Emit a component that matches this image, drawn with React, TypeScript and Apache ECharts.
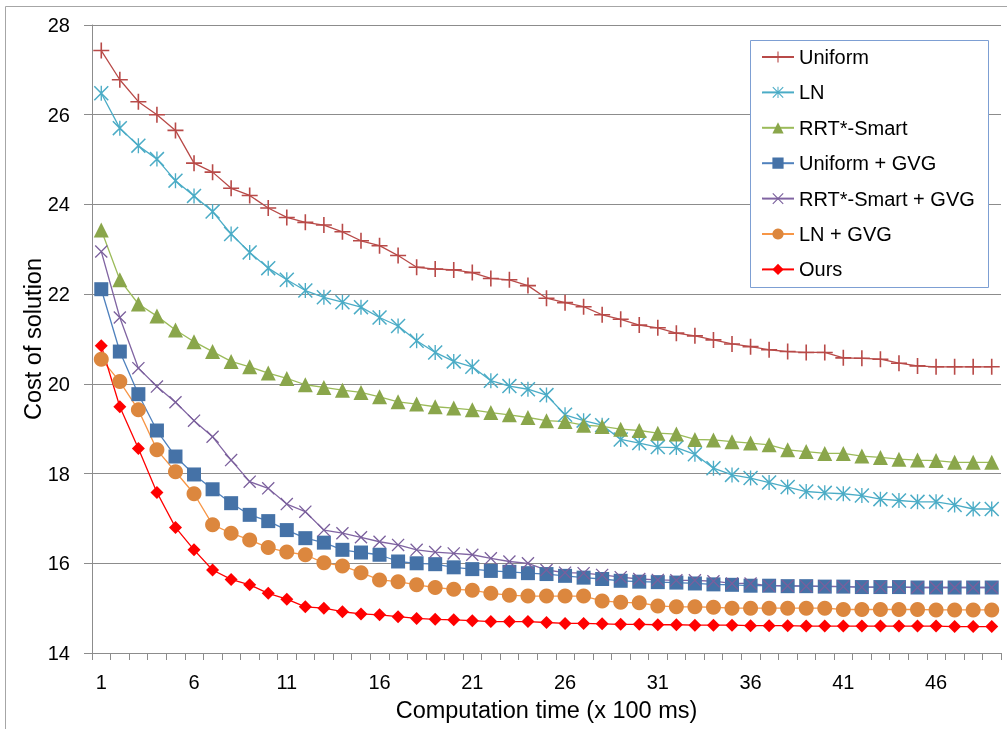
import React, { useEffect, useRef } from "react";
import * as echarts from "echarts";

const categories = ["1","2","3","4","5","6","7","8","9","10","11","12","13","14","15","16","17","18","19","20","21","22","23","24","25","26","27","28","29","30","31","32","33","34","35","36","37","38","39","40","41","42","43","44","45","46","47","48","49"];

const uniform = [27.43,26.78,26.29,26.0,25.65,24.92,24.72,24.36,24.2,23.92,23.71,23.6,23.54,23.39,23.19,23.08,22.86,22.6,22.56,22.54,22.48,22.35,22.32,22.19,21.91,21.81,21.72,21.54,21.44,21.31,21.25,21.13,21.07,20.98,20.89,20.83,20.76,20.72,20.7,20.7,20.58,20.57,20.55,20.46,20.4,20.38,20.38,20.38,20.38];
const ln = [26.48,25.7,25.31,25.01,24.53,24.19,23.84,23.34,22.93,22.58,22.32,22.08,21.93,21.82,21.71,21.48,21.29,20.96,20.7,20.5,20.38,20.07,19.95,19.88,19.75,19.31,19.18,19.08,18.76,18.68,18.59,18.58,18.43,18.12,17.97,17.9,17.8,17.7,17.6,17.57,17.55,17.51,17.43,17.4,17.37,17.37,17.3,17.21,17.21];
const rrtSmart = [23.43,22.32,21.78,21.51,21.2,20.94,20.72,20.5,20.38,20.24,20.12,19.98,19.92,19.86,19.81,19.71,19.6,19.55,19.49,19.46,19.42,19.36,19.31,19.25,19.18,19.16,19.08,19.05,18.99,18.96,18.9,18.88,18.76,18.75,18.71,18.68,18.64,18.53,18.49,18.45,18.45,18.39,18.36,18.32,18.3,18.29,18.25,18.25,18.25];
const uniformGvg = [22.11,20.72,19.77,18.96,18.38,17.98,17.65,17.34,17.08,16.94,16.74,16.56,16.46,16.3,16.24,16.19,16.04,16.0,15.98,15.91,15.87,15.83,15.81,15.78,15.76,15.72,15.68,15.65,15.61,15.59,15.58,15.57,15.55,15.53,15.52,15.5,15.5,15.49,15.49,15.48,15.48,15.47,15.47,15.47,15.46,15.46,15.46,15.46,15.46];
const rrtSmartGvg = [22.95,21.48,20.35,19.94,19.59,19.18,18.82,18.3,17.82,17.67,17.32,17.15,16.74,16.67,16.58,16.48,16.41,16.3,16.25,16.22,16.19,16.11,16.04,16.0,15.85,15.79,15.78,15.74,15.69,15.65,15.63,15.62,15.62,15.6,15.55,15.55,15.5,15.5,15.49,15.49,15.48,15.47,15.47,15.47,15.46,15.46,15.46,15.46,15.46];
const lnGvg = [20.55,20.05,19.42,18.53,18.04,17.55,16.86,16.67,16.52,16.35,16.25,16.19,16.01,15.94,15.79,15.63,15.59,15.52,15.46,15.42,15.4,15.33,15.29,15.27,15.27,15.27,15.27,15.16,15.13,15.12,15.05,15.03,15.03,15.02,15.0,15.0,15.0,15.0,15.0,15.0,14.97,14.97,14.97,14.97,14.97,14.96,14.96,14.96,14.96];
const ours = [20.85,19.49,18.56,17.58,16.8,16.3,15.85,15.64,15.52,15.33,15.2,15.03,15.0,14.92,14.87,14.85,14.81,14.77,14.75,14.74,14.72,14.7,14.7,14.7,14.68,14.66,14.66,14.65,14.64,14.64,14.63,14.63,14.62,14.62,14.62,14.61,14.61,14.61,14.6,14.6,14.6,14.6,14.6,14.6,14.6,14.6,14.59,14.59,14.59];

const seriesNames = ["Uniform", "LN", "RRT*-Smart", "Uniform + GVG", "RRT*-Smart + GVG", "LN + GVG", "Ours"];

const PLUS = "path://M9,0 L11,0 L11,20 L9,20 Z M0,9 L20,9 L20,11 L0,11 Z";
const XMARK = "path://M0,1.41 L1.41,0 L20,18.59 L18.59,20 Z M18.59,0 L20,1.41 L1.41,20 L0,18.59 Z";
const STAR = "path://M0,1.41 L1.41,0 L20,18.59 L18.59,20 Z M18.59,0 L20,1.41 L1.41,20 L0,18.59 Z M9.1,0 L10.9,0 L10.9,20 L9.1,20 Z";

const FONT = "'Liberation Sans', Arial, sans-serif";

export default function App() {
  const ref = useRef<HTMLDivElement>(null);
  useEffect(() => {
    if (!ref.current) return;
    const chart = echarts.init(ref.current, undefined, { renderer: "svg" });
    const mk = (name: string, data: number[], lineColor: string, markColor: string, symbol: string, size: number) => ({
      name,
      type: "line",
      data,
      symbol,
      symbolSize: size,
      showAllSymbol: true,
      lineStyle: { color: lineColor, width: 1.3 },
      itemStyle: { color: markColor, borderWidth: 0 },
      emphasis: { disabled: true },
    });
    chart.setOption({
      animation: false,
      textStyle: { fontFamily: FONT },
      grid: { left: 92, right: 6, top: 25, bottom: 76, containLabel: false },
      graphic: [
        { type: "line", shape: { x1: 5.5, y1: 6.5, x2: 1007, y2: 6.5 }, style: { stroke: "#a6a6a6", lineWidth: 1 } },
        { type: "line", shape: { x1: 5.5, y1: 6.5, x2: 5.5, y2: 729 }, style: { stroke: "#a6a6a6", lineWidth: 1 } },
        { type: "rect", shape: { x: 750.5, y: 40.5, width: 238, height: 247 }, style: { fill: "#fff", stroke: "#7d9fd3", lineWidth: 1 }, z: 10 },
      ],
      legend: {
        orient: "vertical",
        left: 761,
        top: 47,
        padding: 0,
        itemWidth: 32,
        itemHeight: 14,
        itemGap: 15.4,
        z: 20,
        data: seriesNames,
        textStyle: { fontSize: 20, color: "#000", fontFamily: FONT, lineHeight: 20, padding: [0, 0, 0, 0] },
      },
      xAxis: {
        type: "category",
        data: categories,
        boundaryGap: true,
        name: "Computation time (x 100 ms)",
        nameLocation: "middle",
        nameGap: 45,
        nameMoveOverlap: false,
        nameTextStyle: { fontSize: 23.5, color: "#000", fontFamily: FONT },
        axisLine: { lineStyle: { color: "#8c8c8c", width: 1 } },
        axisTick: { show: true, interval: 0, length: 7, lineStyle: { color: "#8c8c8c" } },
        axisLabel: { interval: 4, fontSize: 20, color: "#000", margin: 19, fontFamily: FONT },
        splitLine: { show: false },
      },
      yAxis: {
        type: "value",
        min: 14,
        max: 28,
        interval: 2,
        name: "Cost of solution",
        nameLocation: "middle",
        nameGap: 47,
        nameMoveOverlap: false,
        nameTextStyle: { fontSize: 23.5, color: "#000", fontFamily: FONT },
        axisLine: { show: true, lineStyle: { color: "#8c8c8c", width: 1 } },
        axisTick: { show: true, length: 8, lineStyle: { color: "#8c8c8c" } },
        axisLabel: { fontSize: 20, color: "#000", margin: 22, fontFamily: FONT },
        splitLine: { show: true, lineStyle: { color: "#8c8c8c", width: 1 } },
      },
      series: [
        mk(seriesNames[0], uniform, "#b84a48", "#b84a48", PLUS, 16),
        mk(seriesNames[1], ln, "#4bacc6", "#4bacc6", STAR, 15),
        mk(seriesNames[2], rrtSmart, "#9bbb59", "#8aa64b", "triangle", 15),
        mk(seriesNames[3], uniformGvg, "#4f81bd", "#4572a7", "rect", 14),
        mk(seriesNames[4], rrtSmartGvg, "#8064a2", "#7a5f9c", XMARK, 13),
        mk(seriesNames[5], lnGvg, "#f79646", "#dc873e", "circle", 15),
        mk(seriesNames[6], ours, "#ff0000", "#ff0000", "diamond", 13),
      ],
    });
    return () => chart.dispose();
  }, []);
  return <div ref={ref} style={{ position: "fixed", left: 0, top: 0, width: 1007, height: 729 }} />;
}
